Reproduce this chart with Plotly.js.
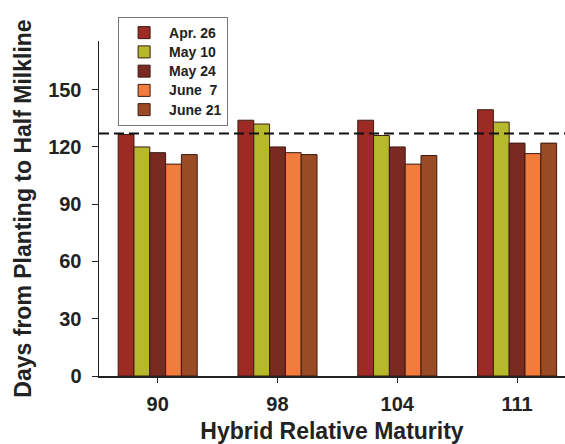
<!DOCTYPE html>
<html>
<head>
<meta charset="utf-8">
<script src="https://cdn.plot.ly/plotly-3.0.1.min.js"></script>
<style>html,body{margin:0;padding:0;background:#fff;}#chart{width:565px;height:444px;}</style>
</head>
<body>
<div id="chart"></div>
<script>
const categories = ["90", "98", "104", "111"];
const seriesNames = ["Apr. 26", "May 10", "May 24", "June  7", "June 21"];
const apr26 = [126.5, 134, 134, 139.5];
const may10 = [120, 132, 126, 133];
const may24 = [117, 120, 120, 122];
const june7 = [111, 117, 111, 116.5];
const june21 = [116, 116, 115.5, 122];
const threshold = 127;
const yTicks = [0, 30, 60, 90, 120, 150];

const seriesValues = [apr26, may10, may24, june7, june21];
const colors = ["#9c2b24", "#b6b92c", "#7b2a22", "#f27c3c", "#9b4b24"];

const traces = seriesValues.map((vals, i) => ({
  type: "bar",
  name: '<span style="font-size:14px">' + seriesNames[i].replace(/  /g, ' &nbsp;') + '</span>',
  x: categories,
  y: vals,
  marker: {color: colors[i], line: {color: "#3a1a12", width: 1}}
}));

const font = {family: "Arial, 'Liberation Sans', sans-serif", color: "#222", weight: "bold"};

const layout = {
  width: 565, height: 444,
  margin: {l: 99, r: 0, t: 41, b: 68},
  paper_bgcolor: "#fff", plot_bgcolor: "#fff",
  barmode: "group",
  bargap: 0.34, bargroupgap: 0,
  showlegend: true,
  font: font,
  legend: {
    x: 0.041, y: 1.0716, xanchor: "left", yanchor: "top",
    bgcolor: "#fff", bordercolor: "#777", borderwidth: 1,
    font: Object.assign({}, font, {size: 12.5}),
    tracegroupgap: 0, itemwidth: 40
  },
  xaxis: {
    type: "category",
    range: [-0.49, 3.4],
    showline: true, linecolor: "#222", linewidth: 1.5,
    ticks: "outside", ticklen: 5, tickcolor: "#222",
    ticklabelstandoff: 4,
    tickfont: Object.assign({}, font, {size: 20}),
    title: {text: "Hybrid Relative Maturity", font: Object.assign({}, font, {size: 23}), standoff: 9},
    showgrid: false, zeroline: false
  },
  yaxis: {
    range: [0, 175.5],
    tickvals: yTicks,
    showline: true, linecolor: "#222", linewidth: 1.5,
    ticks: "outside", ticklen: 6, tickcolor: "#222",
    ticklabelstandoff: 6,
    tickfont: Object.assign({}, font, {size: 20}),
    title: {text: "Days from Planting to Half Milkline", font: Object.assign({}, font, {size: 23}), standoff: 10},
    showgrid: false, zeroline: false
  },
  shapes: [{
    type: "line", xref: "paper", yref: "y",
    x0: 0, x1: 1, y0: threshold, y1: threshold,
    line: {color: "#111", width: 2, dash: "10px,5px"}
  }]
};

Plotly.newPlot("chart", traces, layout, {displayModeBar: false, staticPlot: true});
</script>
</body>
</html>
